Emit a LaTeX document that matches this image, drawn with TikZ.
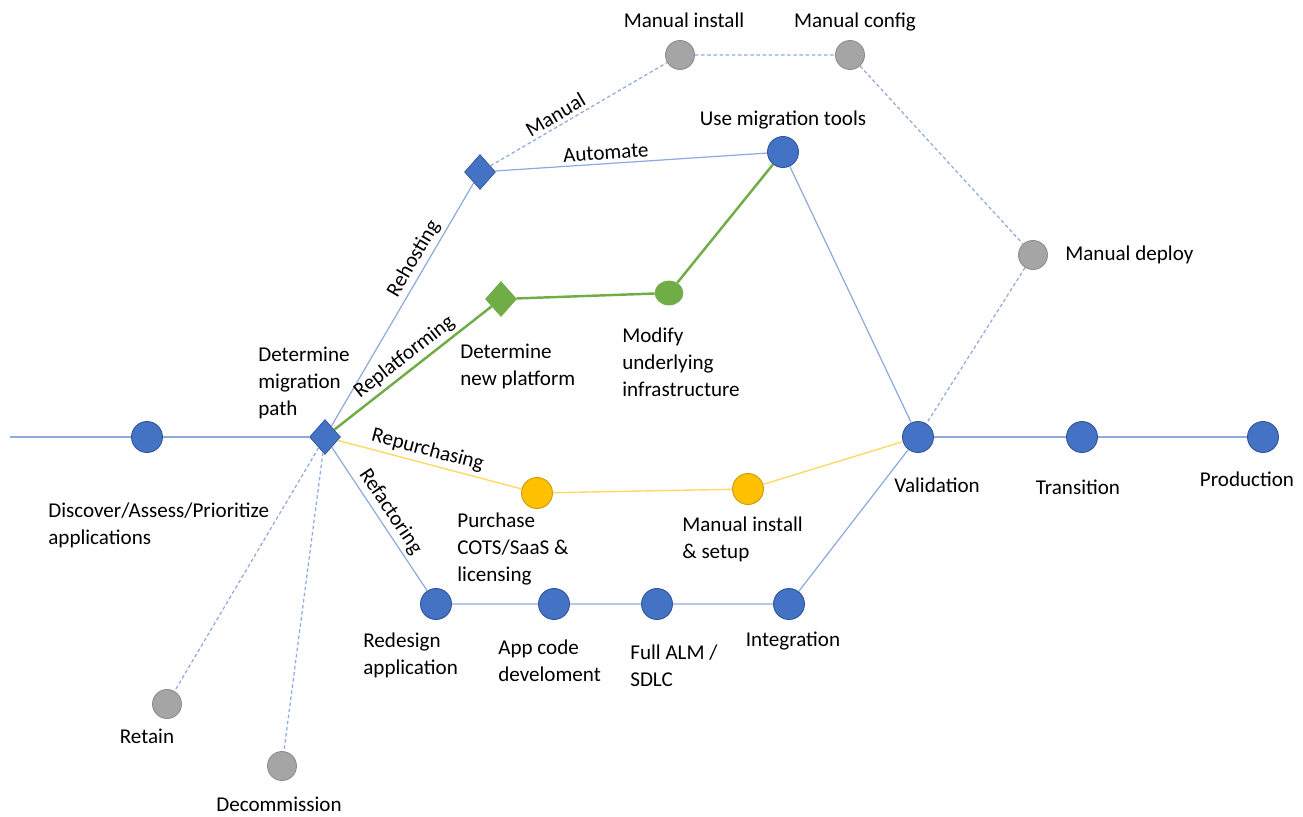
\documentclass[tikz,border=0pt]{standalone}
\usepackage{fontspec}
\setmainfont{Carlito}
\usetikzlibrary{shapes.geometric}
\definecolor{lineblue}{RGB}{143,170,220}
\definecolor{nodeblue}{RGB}{68,114,196}
\definecolor{nodeedge}{RGB}{47,85,151}
\definecolor{greyfill}{RGB}{165,165,165}
\definecolor{greyedge}{RGB}{140,140,140}
\definecolor{greenfill}{RGB}{112,173,71}
\definecolor{goldfill}{RGB}{255,192,0}
\definecolor{goldedge}{RGB}{204,153,0}
\definecolor{goldline}{RGB}{255,217,102}
\tikzset{
  station/.style={circle, inner sep=0pt, minimum size=0.62cm, line width=0.5pt},
  bluestation/.style={station, fill=nodeblue, draw=nodeedge},
  greystation/.style={station, fill=greyfill, draw=greyedge, minimum size=0.58cm},
  greenstation/.style={ellipse, inner sep=0pt, minimum width=0.56cm, minimum height=0.48cm, fill=greenfill, draw=greenfill},
  goldstation/.style={station, fill=goldfill, draw=goldedge},
  fork/.style={diamond, inner sep=0pt, minimum width=0.62cm, minimum height=0.7cm},
  txt/.style={inner sep=0pt, align=left, font=\fontsize{12}{15.3}\selectfont},
  elbl/.style={txt, sloped, above, inner sep=2pt},
  track/.style={draw=lineblue, line width=0.7pt},
  dashtrack/.style={draw=lineblue, line width=0.7pt, dash pattern=on 2pt off 1.5pt},
  greentrack/.style={draw=greenfill, line width=1.4pt},
  goldtrack/.style={draw=goldline, line width=0.8pt}
}
\begin{document}
\begin{tikzpicture}[x=0.02cm, y=-0.02cm]
  \useasboundingbox (0,0) rectangle (1303,816);
  % main line
  \coordinate (entry) at (10,437);
  \node[bluestation] (discover) at (147,437) {};
  \node[fork, fill=nodeblue, draw=nodeedge] (path) at (325,437) {};
  \node[bluestation] (valid) at (918,437) {};
  \node[bluestation] (transit) at (1082,437) {};
  \node[bluestation] (prod) at (1263,437) {};
  % rehosting
  \node[fork, fill=nodeblue, draw=nodeedge] (rehost) at (480,172) {};
  \node[greystation] (minstall) at (680,55) {};
  \node[greystation] (mconfig) at (850,55) {};
  \node[greystation] (mdeploy) at (1033,255) {};
  \node[bluestation] (tools) at (783,152) {};
  % replatforming
  \node[fork, fill=greenfill, draw=greenfill] (replat) at (501,299) {};
  \node[greenstation] (modify) at (669,293) {};
  % repurchasing
  \node[goldstation] (purchase) at (537,493) {};
  \node[goldstation] (msetup) at (748,489) {};
  % refactoring
  \node[bluestation] (redesign) at (436,604) {};
  \node[bluestation] (appcode) at (554,604) {};
  \node[bluestation] (alm) at (657,604) {};
  \node[bluestation] (integ) at (789,604) {};
  % retain / decommission
  \node[greystation] (retain) at (167,704) {};
  \node[greystation] (decomm) at (282,766) {};

  % connectors
  \draw[track] (entry) -- (discover) -- (path);
  \draw[track] (valid) -- (transit) -- (prod);
  \draw[track] (path) -- node[elbl, pos=0.66] (lRehost) {Rehosting} (rehost);
  \draw[track] (rehost) -- node[elbl, pos=0.41] (lAuto) {Automate} (tools);
  \draw[dashtrack] (rehost) -- node[elbl, pos=0.4] (lManual) {Manual} (minstall);
  \draw[dashtrack] (minstall) -- (mconfig) -- (mdeploy) -- (valid);
  \draw[track] (tools) -- (valid);
  \draw[greentrack] (path) -- node[elbl, pos=0.5] (lReplat) {Replatforming} (replat);
  \draw[greentrack] (replat) -- (modify) -- (tools);
  \draw[goldtrack] (path) -- node[elbl, pos=0.47] (lRepurch) {Repurchasing} (purchase);
  \draw[goldtrack] (purchase) -- (msetup) -- (valid);
  \draw[track] (path) -- node[elbl, pos=0.5] (lRefact) {Refactoring} (redesign);
  \draw[track] (redesign) -- (appcode) -- (alm) -- (integ) -- (valid);
  \draw[dashtrack] (path) -- (retain);
  \draw[dashtrack] (path) -- (decomm);

  % texts
  \node[txt] (tMinstall) at (684,20) {Manual install};
  \node[txt] (tMconfig) at (855,22) {Manual config};
  \node[txt] (tTools) at (783,120) {Use migration tools};
  \node[txt, anchor=west] (tMdeploy) at (1065,255) {Manual deploy};
  \node[txt, anchor=west] (tPath) at (258,383) {Determine\\migration\\path};
  \node[txt, anchor=west] (tReplat) at (460,366) {Determine\\new platform};
  \node[txt, anchor=west] (tModify) at (622,362) {Modify\\underlying\\infrastructure};
  \node[txt, anchor=west] (tDiscover) at (48,525) {Discover/Assess/Prioritize\\applications};
  \node[txt, anchor=west] (tPurchase) at (457,549) {Purchase\\COTS/SaaS \&\\licensing};
  \node[txt, anchor=west] (tMsetup) at (682,539) {Manual install\\\& setup};
  \node[txt] (tValid) at (937,485) {Validation};
  \node[txt] (tTransit) at (1078,487) {Transition};
  \node[txt] (tProd) at (1247,479) {Production};
  \node[txt, anchor=west] (tRedesign) at (363,655) {Redesign\\application};
  \node[txt, anchor=west] (tAppcode) at (498,661) {App code\\develoment};
  \node[txt, anchor=west] (tAlm) at (630,666) {Full ALM /\\SDLC};
  \node[txt] (tInteg) at (793,641) {Integration};
  \node[txt] (tRetain) at (147,736) {Retain};
  \node[txt] (tDecomm) at (279,804) {Decommission};
\end{tikzpicture}
\end{document}
